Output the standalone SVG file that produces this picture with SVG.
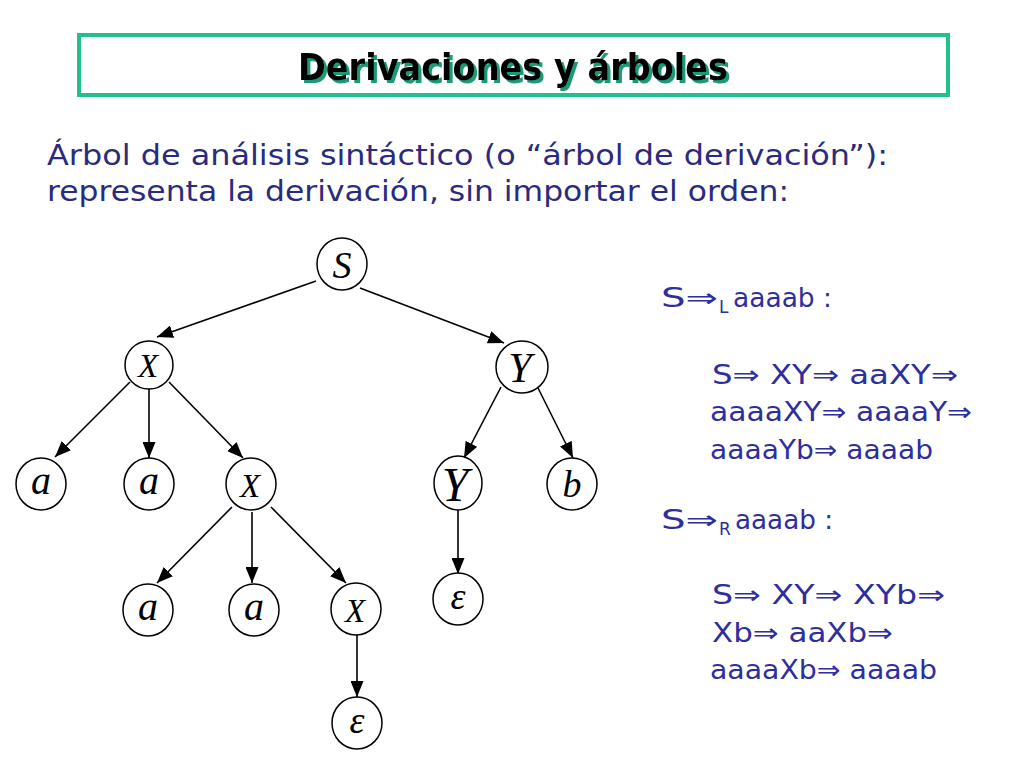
<svg xmlns="http://www.w3.org/2000/svg" width="1024" height="768" viewBox="0 0 1024 768">
<defs>
<marker id="ah" viewBox="0 0 16 13" refX="16" refY="6.5" markerWidth="16" markerHeight="13" markerUnits="userSpaceOnUse" orient="auto">
<path d="M0,0 L16,6.5 L0,13 Z" fill="#000"/>
</marker>
<filter id="sh" x="-5%" y="-20%" width="110%" height="140%">
<feFlood flood-color="#1a9a78"/>
<feComposite in2="SourceAlpha" operator="in"/>
<feOffset dx="3" dy="3" result="s"/>
<feMerge><feMergeNode in="s"/><feMergeNode in="SourceGraphic"/></feMerge>
</filter>
</defs>
<style>
.n{fill:#fff;stroke:#000;stroke-width:1.5}
.t{font-family:"Liberation Serif",serif;font-style:italic;fill:#000;text-anchor:middle}
.e{stroke:#000;stroke-width:1.6;fill:none;marker-end:url(#ah)}
.sub{font-family:"DejaVu Sans",sans-serif;font-size:29px;fill:#2b2b7e}
.r{font-family:"DejaVu Sans",sans-serif;font-size:26px;fill:#2e2e9c}
.title{font-family:"DejaVu Sans",sans-serif;font-weight:bold;font-size:38px}
</style>
<rect width="1024" height="768" fill="#fff"/>
<g id="title">
<rect x="79" y="35" width="869" height="60" fill="#fff" stroke="#22c08f" stroke-width="4"/>
<text class="title" x="298" y="80" textLength="430" lengthAdjust="spacingAndGlyphs" fill="#000" filter="url(#sh)">Derivaciones y árboles</text>
</g>
<g id="subtitle">
<text class="sub" x="47" y="165" textLength="841" lengthAdjust="spacingAndGlyphs">Árbol de análisis sintáctico (o “árbol de derivación”):</text>
<text class="sub" x="47" y="201" textLength="742" lengthAdjust="spacingAndGlyphs">representa la derivación, sin importar el orden:</text>
</g>
<g id="connectors">
<line class="e" x1="316" y1="281" x2="157" y2="337"/>
<line class="e" x1="360" y1="288" x2="504" y2="343"/>
<line class="e" x1="130" y1="382" x2="55" y2="457"/>
<line class="e" x1="149" y1="388" x2="149" y2="458"/>
<line class="e" x1="169" y1="382" x2="243" y2="458"/>
<line class="e" x1="501" y1="387" x2="464" y2="458"/>
<line class="e" x1="538" y1="388" x2="573" y2="458"/>
<line class="e" x1="232" y1="507" x2="157" y2="583"/>
<line class="e" x1="252" y1="512" x2="252" y2="583"/>
<line class="e" x1="271" y1="507" x2="346" y2="583"/>
<line class="e" x1="458" y1="510" x2="458" y2="574"/>
<line class="e" x1="357" y1="633" x2="357" y2="697"/>
</g>
<g id="n-S"><ellipse class="n" cx="342" cy="264" rx="25" ry="26"/><text class="t" x="342" y="278" font-size="38">S</text></g>
<g id="n-X1"><ellipse class="n" cx="149" cy="365" rx="24" ry="24"/><text class="t" x="148" y="377" font-size="33">X</text></g>
<g id="n-Y1"><ellipse class="n" cx="522" cy="367" rx="26" ry="26"/><text class="t" x="520" y="382" font-size="42">Y</text></g>
<g id="n-a1"><ellipse class="n" cx="41" cy="484" rx="25" ry="26"/><text class="t" x="41" y="494" font-size="40">a</text></g>
<g id="n-a2"><ellipse class="n" cx="149" cy="484" rx="25" ry="26"/><text class="t" x="149" y="494" font-size="40">a</text></g>
<g id="n-X2"><ellipse class="n" cx="251" cy="484" rx="25" ry="26"/><text class="t" x="250" y="497" font-size="33">X</text></g>
<g id="n-Y2"><ellipse class="n" cx="458" cy="483" rx="24" ry="27"/><text class="t" x="455" y="501" font-size="48">Y</text></g>
<g id="n-b"><ellipse class="n" cx="572" cy="484" rx="25" ry="26"/><text class="t" x="572" y="497" font-size="38">b</text></g>
<g id="n-a3"><ellipse class="n" cx="148" cy="610" rx="25" ry="26"/><text class="t" x="148" y="620" font-size="40">a</text></g>
<g id="n-a4"><ellipse class="n" cx="254" cy="610" rx="25" ry="26"/><text class="t" x="254" y="620" font-size="40">a</text></g>
<g id="n-X3"><ellipse class="n" cx="356" cy="609" rx="25" ry="26"/><text class="t" x="355" y="622" font-size="33">X</text></g>
<g id="n-eps1"><ellipse class="n" cx="458" cy="599" rx="25" ry="26"/><text class="t" x="458" y="609" font-size="38">ε</text></g>
<g id="n-eps2"><ellipse class="n" cx="357" cy="723" rx="25" ry="26"/><text class="t" x="357" y="733" font-size="38">ε</text></g>
<g id="derivations">
<text class="r" y="307"><tspan x="661" textLength="57" lengthAdjust="spacingAndGlyphs">S⇒</tspan><tspan x="719" y="313" font-size="17">L</tspan><tspan x="733" y="307" textLength="99" lengthAdjust="spacingAndGlyphs">aaaab :</tspan></text>
<text class="r" x="712" y="384" textLength="246" lengthAdjust="spacingAndGlyphs">S⇒ XY⇒ aaXY⇒</text>
<text class="r" x="710" y="421" textLength="262" lengthAdjust="spacingAndGlyphs">aaaaXY⇒ aaaaY⇒</text>
<text class="r" x="710" y="459" textLength="223" lengthAdjust="spacingAndGlyphs">aaaaYb⇒ aaaab</text>
<text class="r" y="529"><tspan x="661" textLength="57" lengthAdjust="spacingAndGlyphs">S⇒</tspan><tspan x="719" y="535" font-size="17">R</tspan><tspan x="735" y="529" textLength="98" lengthAdjust="spacingAndGlyphs">aaaab :</tspan></text>
<text class="r" x="712" y="604" textLength="233" lengthAdjust="spacingAndGlyphs">S⇒ XY⇒ XYb⇒</text>
<text class="r" x="712" y="642" textLength="181" lengthAdjust="spacingAndGlyphs">Xb⇒ aaXb⇒</text>
<text class="r" x="710" y="679" textLength="227" lengthAdjust="spacingAndGlyphs">aaaaXb⇒ aaaab</text>
</g>
</svg>
